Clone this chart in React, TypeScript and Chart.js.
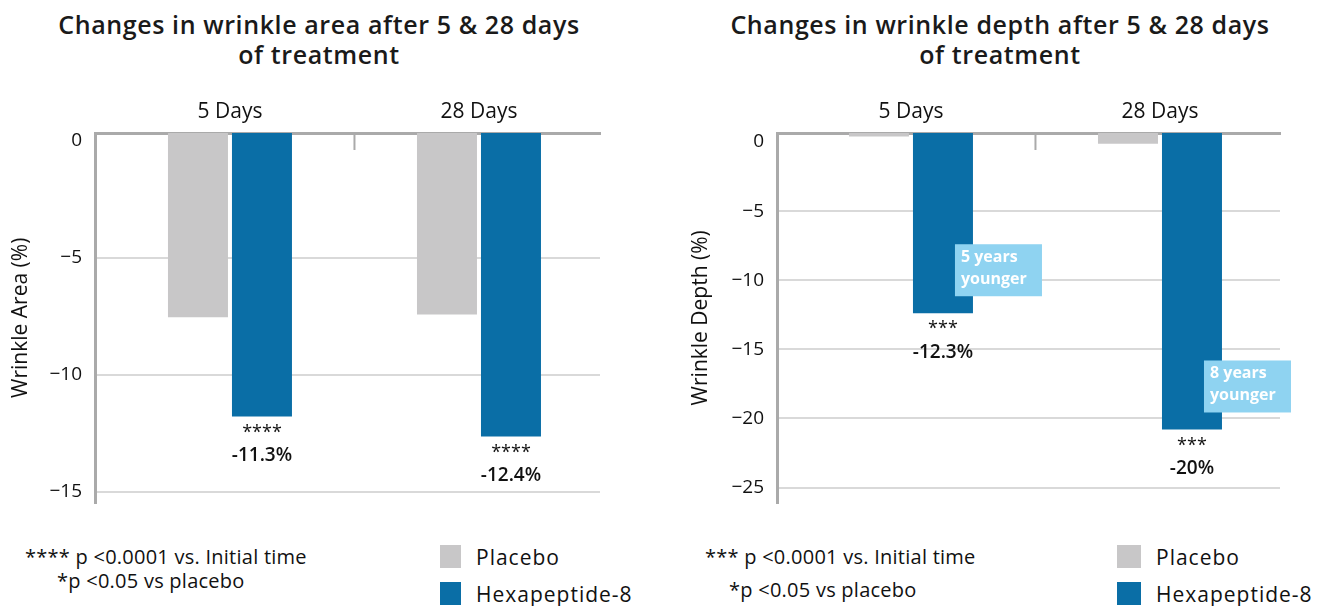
import React, { useEffect, useRef } from "react";
import { Chart, registerables } from "chart.js";
Chart.register(...registerables);

const CATEGORIES = ["5 Days", "28 Days"];
const SERIES_NAMES = ["Placebo", "Hexapeptide-8"];

const AREA_PLACEBO = [-7.54, -7.42];
const AREA_HEXA = [-11.79, -12.64];
const AREA_TICKS = [0, -5, -10, -15];
const AREA_LABELS = ["-11.3%", "-12.4%"];
const AREA_STARS = ["****", "****"];

const DEPTH_PLACEBO = [0.4, -0.12];
const DEPTH_HEXA = [-12.39, -20.8];
const DEPTH_TICKS = [0, -5, -10, -15, -20, -25];
const DEPTH_LABELS = ["-12.3%", "-20%"];
const DEPTH_STARS = ["***", "***"];
const DEPTH_BOXES = [
  ["5 years", "younger"],
  ["8 years", "younger"],
];

const PLACEBO_COLOR = "#c8c7c8";
const HEXA_COLOR = "#0a6ea6";
const BOX_COLOR = "#8fd3f1";
const FONT = "'Open Sans', 'DejaVu Sans', sans-serif";

type PanelProps = {
  left: number;
  width: number;
  height: number;
  placebo: number[];
  hexa: number[];
  ticks: number[];
  yMin: number;
  yMax: number;
  xMin: number;
  xMax: number;
  yTitle: string;
  labels: string[];
  stars: string[];
  boxes?: string[][];
  padLeft: number;
  padRight: number;
  yWidth: number;
};

function Panel(p: PanelProps) {
  const ref = useRef<HTMLCanvasElement | null>(null);
  useEffect(() => {
    if (!ref.current) return;
    const annot = {
      id: "annot",
      afterDatasetsDraw(chart: any) {
        const ctx = chart.ctx;
        const xs = chart.scales.x;
        const area = chart.chartArea;
        const mid = xs.getPixelForValue(0.5);
        ctx.save();
        ctx.strokeStyle = "#aaaaaa";
        ctx.lineWidth = 2;
        ctx.beginPath();
        ctx.moveTo(mid, area.top);
        ctx.lineTo(mid, area.top + 17);
        ctx.stroke();
        const meta = chart.getDatasetMeta(1);
        meta.data.forEach((el: any, i: number) => {
          ctx.fillStyle = "#111111";
          ctx.textAlign = "center";
          ctx.textBaseline = "middle";
          ctx.font = `500 18px ${FONT}`;
          ctx.fillText(p.stars[i], el.x, el.y + 16);
          ctx.font = `600 19px ${FONT}`;
          ctx.fillText(p.labels[i], el.x, el.y + 39);
          if (p.boxes) {
            const bx = el.x + 12;
            const by = el.y - 17 - 52;
            ctx.fillStyle = BOX_COLOR;
            ctx.fillRect(bx, by, 87, 52);
            ctx.fillStyle = "#ffffff";
            ctx.textAlign = "left";
            ctx.font = `700 16px ${FONT}`;
            ctx.fillText(p.boxes[i][0], bx + 6, by + 13);
            ctx.fillText(p.boxes[i][1], bx + 6, by + 35);
          }
        });
        ctx.restore();
      },
    };
    const chart = new Chart(ref.current, {
      type: "bar",
      data: {
        datasets: [
          {
            label: SERIES_NAMES[0],
            data: p.placebo.map((v, i) => ({ x: i, y: v })),
            backgroundColor: PLACEBO_COLOR,
            base: p.yMax,
            categoryPercentage: 0.514,
            barPercentage: 0.9375,
          } as any,
          {
            label: SERIES_NAMES[1],
            data: p.hexa.map((v, i) => ({ x: i, y: v })),
            backgroundColor: HEXA_COLOR,
            base: p.yMax,
            categoryPercentage: 0.514,
            barPercentage: 0.9375,
          } as any,
        ],
      },
      options: {
        animation: false,
        responsive: false,
        layout: { padding: { top: 90, left: p.padLeft, right: p.padRight, bottom: 18 } },
        plugins: { legend: { display: false }, tooltip: { enabled: false }, title: { display: false } },
        scales: {
          x: {
            type: "linear",
            position: "top",
            offset: false,
            min: p.xMin,
            max: p.xMax,
            afterBuildTicks: (s: any) => {
              s.ticks = CATEGORIES.map((_, i) => ({ value: i }));
            },
            grid: { display: false, drawTicks: false },
            border: { display: true, color: "#aaaaaa", width: 3 },
            ticks: {
              color: "#111111",
              font: { family: FONT, size: 21 },
              padding: 8,
              callback: (v: any) => CATEGORIES[v] ?? "",
            },
            afterFit: (s: any) => {
              s.height = 43;
            },
          },
          y: {
            position: "left",
            min: p.yMin,
            max: p.yMax,
            afterBuildTicks: (s: any) => {
              s.ticks = p.ticks.map((v) => ({ value: v }));
            },
            afterFit: (s: any) => {
              s.width = p.yWidth;
            },
            grid: {
              drawTicks: false,
              color: (c: any) => (c.tick && c.tick.value === 0 ? "rgba(0,0,0,0)" : "#d9d9d9"),
              lineWidth: 2,
            },
            border: { display: true, color: "#aaaaaa", width: 3 },
            ticks: {
              color: "#111111",
              font: { family: FONT, size: 19 },
              padding: 13,
              callback: (v: any) => (v === 0 ? "0" : "\u2212" + Math.abs(v)),
            },
            title: {
              display: true,
              text: p.yTitle,
              color: "#111111",
              font: { family: FONT, size: 21 },
              padding: 0,
            },
          },
        },
      },
      plugins: [annot],
    });
    return () => chart.destroy();
  }, []);
  return (
    <canvas
      ref={ref}
      width={p.width}
      height={p.height}
      style={{ position: "absolute", left: p.left, top: 0, width: p.width, height: p.height }}
    />
  );
}

const titleStyle: React.CSSProperties = {
  position: "absolute",
  top: 9,
  textAlign: "center",
  fontFamily: FONT,
  fontWeight: 600,
  fontSize: 25,
  letterSpacing: "0.6px",
  lineHeight: "30px",
  color: "#1a1a1a",
  whiteSpace: "nowrap",
};

const noteStyle: React.CSSProperties = {
  position: "absolute",
  fontFamily: FONT,
  fontSize: 20,
  letterSpacing: "0.25px",
  lineHeight: "24px",
  color: "#111111",
  whiteSpace: "nowrap",
};

const legendText: React.CSSProperties = {
  ...noteStyle,
  fontSize: 21,
  letterSpacing: "1px",
};

function Legend({ left, textLeft, size }: { left: number; textLeft: number; size: number }) {
  return (
    <>
      <div style={{ position: "absolute", left, top: 545, width: size, height: 23, background: PLACEBO_COLOR }} />
      <div style={{ ...legendText, left: textLeft, top: 545 }}>{SERIES_NAMES[0]}</div>
      <div style={{ position: "absolute", left, top: 582, width: size, height: 23, background: HEXA_COLOR }} />
      <div style={{ ...legendText, left: textLeft, top: 582 }}>{SERIES_NAMES[1]}</div>
    </>
  );
}

export default function App() {
  return (
    <div style={{ position: "absolute", left: 0, top: 0, width: 1318, height: 606, background: "#ffffff", overflow: "hidden" }}>
      <div style={{ ...titleStyle, left: 0, width: 638 }}>
        Changes in wrinkle area after 5 &amp; 28 days
        <br />
        of treatment
      </div>
      <div style={{ ...titleStyle, left: 680, width: 640 }}>
        Changes in wrinkle depth after 5 &amp; 28 days
        <br />
        of treatment
      </div>
      <Panel
        left={0}
        width={659}
        height={527}
        placebo={AREA_PLACEBO}
        hexa={AREA_HEXA}
        ticks={AREA_TICKS}
        yMin={-15.47}
        yMax={0.343}
        xMin={-0.542}
        xMax={1.486}
        yTitle="Wrinkle Area (%)"
        labels={AREA_LABELS}
        stars={AREA_STARS}
        padLeft={8}
        padRight={59}
        yWidth={87}
      />
      <Panel
        left={680}
        width={638}
        height={527}
        placebo={DEPTH_PLACEBO}
        hexa={DEPTH_HEXA}
        ticks={DEPTH_TICKS}
        yMin={-26.09}
        yMax={0.65}
        xMin={-0.538}
        xMax={1.482}
        yTitle="Wrinkle Depth (%)"
        labels={DEPTH_LABELS}
        stars={DEPTH_STARS}
        boxes={DEPTH_BOXES}
        padLeft={8}
        padRight={38}
        yWidth={89}
      />
      <div style={{ ...noteStyle, left: 25, top: 545 }}>**** p &lt;0.0001 vs. Initial time</div>
      <div style={{ ...noteStyle, left: 57, top: 569 }}>*p &lt;0.05 vs placebo</div>
      <div style={{ ...noteStyle, left: 705, top: 545 }}>*** p &lt;0.0001 vs. Initial time</div>
      <div style={{ ...noteStyle, left: 729, top: 578 }}>*p &lt;0.05 vs placebo</div>
      <Legend left={440} textLeft={476} size={21} />
      <Legend left={1117} textLeft={1156} size={24} />
    </div>
  );
}
